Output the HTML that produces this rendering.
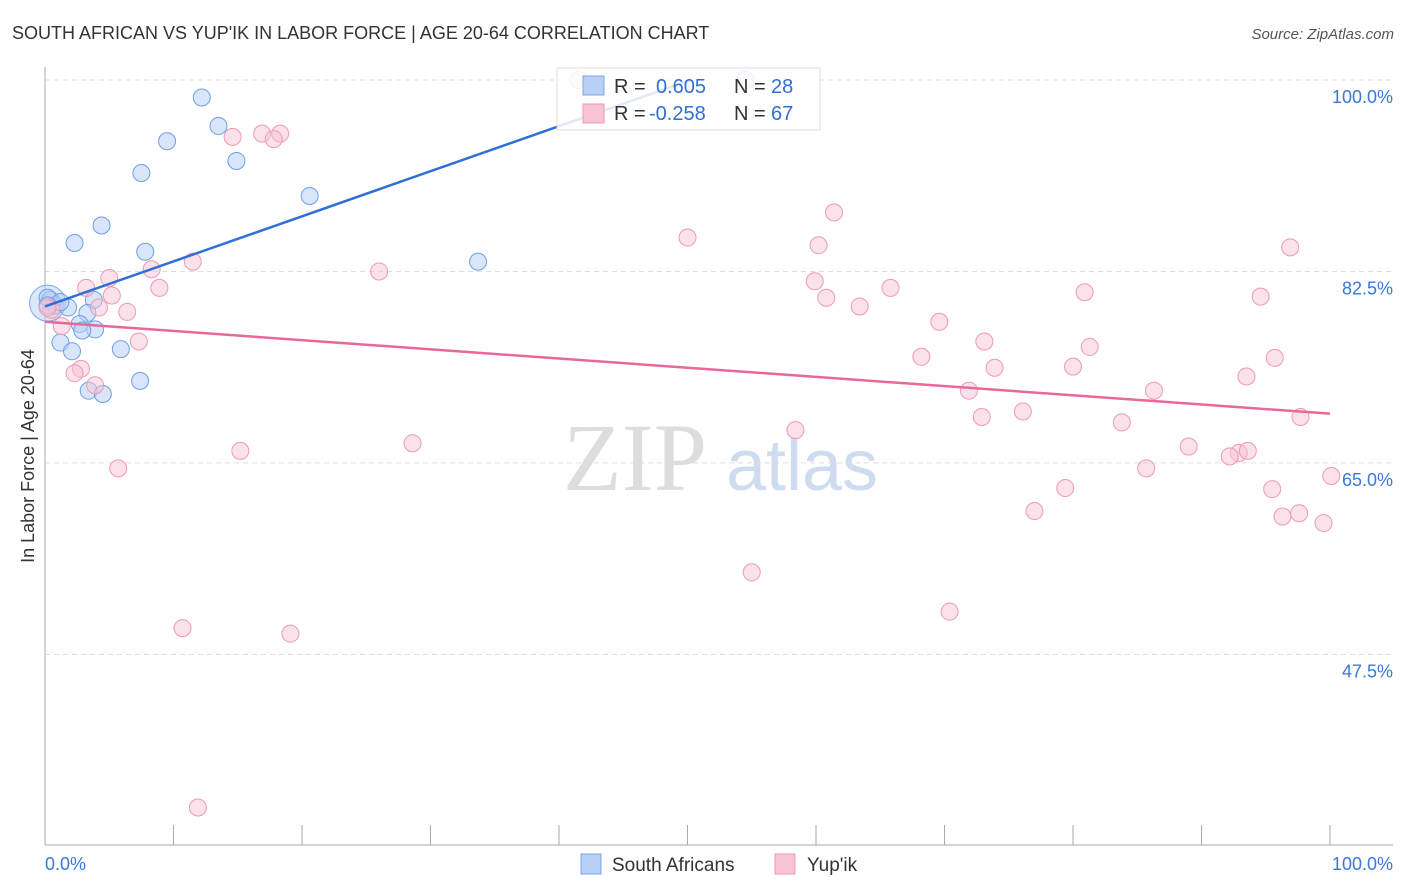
<!DOCTYPE html>
<html><head><meta charset="utf-8">
<style>
body{margin:0;background:#fff;font-family:"Liberation Sans",sans-serif;}
svg{display:block}
</style></head>
<body>
<svg id="chart" width="1406" height="892" xmlns="http://www.w3.org/2000/svg">
<text x="12" y="39" font-size="18" fill="#333">SOUTH AFRICAN VS YUP'IK IN LABOR FORCE | AGE 20-64 CORRELATION CHART</text>
<text x="1394" y="39" font-size="15" fill="#555" text-anchor="end" font-style="italic">Source: ZipAtlas.com</text>
<text x="34" y="456" font-size="18" fill="#333" text-anchor="middle" transform="rotate(-90 34 456)">In Labor Force | Age 20-64</text>
<g>
<text x="635" y="490" font-size="96" fill="#ddd" text-anchor="middle" font-family="Liberation Serif,serif">ZIP</text>
<text x="802" y="490" font-size="72" fill="#cfdcf0" text-anchor="middle">atlas</text>
</g>
<g id="grid"></g><g id="axes"></g><g id="pts"></g><g id="trend"></g>
<g>
<rect x="557" y="68" width="263" height="62" fill="#fff" fill-opacity="0.85" stroke="#ddd"/>
<rect x="583" y="76" width="21" height="19" fill="#b8d0f5" stroke="#7aa6e8"/>
<rect x="583" y="104" width="21" height="19" fill="#f8c4d4" stroke="#ee9ab5"/>
<text x="614" y="93" font-size="20" fill="#333">R = </text><text x="656" y="93" font-size="20" fill="#2f6fd6">0.605</text>
<text x="734" y="93" font-size="20" fill="#333">N = </text><text x="771" y="93" font-size="20" fill="#2f6fd6">28</text>
<text x="614" y="120" font-size="20" fill="#333">R = </text><text x="649" y="120" font-size="20" fill="#2f6fd6">-0.258</text>
<text x="734" y="120" font-size="20" fill="#333">N = </text><text x="771" y="120" font-size="20" fill="#2f6fd6">67</text>
</g>
<g>
<rect x="581" y="854" width="20" height="20" fill="#b8d0f5" stroke="#7aa6e8"/>
<text x="612" y="871" font-size="19" fill="#333">South Africans</text>
<rect x="775" y="854" width="20" height="20" fill="#f8c4d4" stroke="#ee9ab5"/>
<text x="807" y="871" font-size="19" fill="#333">Yup'ik</text>
</g>
</svg>
<script>
const yTicks=[100,82.5,65,47.5];
const yTickLabels=["100.0%","82.5%","65.0%","47.5%"];
const xTickVals=[0,10,20,30,40,50,60,70,80,90,100];
const blueX=[12.2,13.5,9.5,14.9,7.5,20.6,4.4,2.3,7.8,33.7,3.8,0.4,0.8,1.8,3.3,2.7,3.9,2.9,1.2,2.1,5.9,7.4,3.4,4.5,0.2,1.2,54.5,0.2];
const blueY=[98.4,95.8,94.4,92.6,91.5,89.4,86.7,85.1,84.3,83.4,79.9,79.9,79.4,79.2,78.7,77.7,77.2,77.1,76.0,75.2,75.4,72.5,71.6,71.3,80.1,79.7,100,79.4];
const pinkX=[41.5,14.6,16.9,18.3,17.8,61.4,50.0,60.2,96.9,11.5,8.3,26.0,5.0,3.2,8.9,59.9,65.8,80.9,5.2,60.8,94.6,63.4,4.2,6.4,0.5,1.3,69.6,73.1,81.3,7.3,68.2,95.7,2.8,2.3,73.9,80.0,93.5,3.9,71.9,86.3,76.1,72.9,97.7,83.8,58.4,28.6,15.2,89.0,92.9,92.2,93.6,5.7,85.7,100.1,79.4,95.5,77.0,96.3,97.6,99.5,55.0,70.4,10.7,19.1,11.9,0.2];
const pinkY=[100,94.8,95.1,95.1,94.6,87.9,85.6,84.9,84.7,83.4,82.7,82.5,81.9,81.0,81.0,81.6,81.0,80.6,80.3,80.1,80.2,79.3,79.2,78.8,79.0,77.5,77.9,76.1,75.6,76.1,74.7,74.6,73.6,73.2,73.7,73.8,72.9,72.1,71.6,71.6,69.7,69.2,69.2,68.7,68.0,66.8,66.1,66.5,65.9,65.6,66.1,64.5,64.5,63.8,62.7,62.6,60.6,60.1,60.4,59.5,55.0,51.4,49.9,49.4,33.5,79.2];
const blueTrend=[79.3,0.412]; // intercept, slope
const pinkTrend=[77.9,-0.084];
const NS="http://www.w3.org/2000/svg";
const X=v=>45+v*12.85, Y=v=>80+(100-v)*10.94;
function mk(tag,attrs,parent){const e=document.createElementNS(NS,tag);for(const k in attrs)e.setAttribute(k,attrs[k]);document.getElementById(parent).appendChild(e);return e;}
yTicks.forEach((t,i)=>{
 const l=mk('line',{x1:45,x2:1393,y1:Y(t),y2:Y(t),stroke:'#ddd','stroke-dasharray':'5,4'},'grid');
 
 
 const tx=mk('text',{x:1393,y:Y(t)+23,'font-size':18,fill:'#3a78d8','text-anchor':'end'},'grid');
 tx.textContent=yTickLabels[i];
 
 
});
let a=mk('line',{x1:45,x2:45,y1:67,y2:845,stroke:'#aaa'},'axes');


a=mk('line',{x1:45,x2:1393,y1:845,y2:845,stroke:'#aaa'},'axes');


xTickVals.forEach(v=>{const t=mk('line',{x1:X(v),x2:X(v),y1:825,y2:845,stroke:'#aaa'},'axes');
 
 });
let t0=mk('text',{x:45,y:870,'font-size':18,fill:'#3a78d8'},'axes');t0.textContent=xTickVals[0].toFixed(1)+'%';


let t1=mk('text',{x:1393,y:870,'font-size':18,fill:'#3a78d8','text-anchor':'end'},'axes');t1.textContent=xTickVals[xTickVals.length-1].toFixed(1)+'%';


let big=mk('circle',{cx:X(0.2),cy:Y(79.6),r:18,fill:'#b8d0f5','fill-opacity':0.5,stroke:'#7aa6e8'},'pts');


blueX.forEach((v,i)=>{const c=mk('circle',{cx:X(v),cy:Y(blueY[i]),r:8.5,fill:'#b8d0f5','fill-opacity':0.55,stroke:'#6e9fe6','stroke-width':1},'pts');
 
 });
pinkX.forEach((v,i)=>{const c=mk('circle',{cx:X(v),cy:Y(pinkY[i]),r:8.5,fill:'#f8c4d4','fill-opacity':0.5,stroke:'#ee9ab5','stroke-width':1},'pts');
 
 });
const bx2=(100-blueTrend[0])/blueTrend[1];
let bl=mk('line',{x1:X(0),y1:Y(blueTrend[0]),x2:X(bx2),y2:Y(100),stroke:'#2f6fd6','stroke-width':2.5},'trend');


let pl=mk('line',{x1:X(0),y1:Y(pinkTrend[0]),x2:X(100),y2:Y(pinkTrend[0]+100*pinkTrend[1]),stroke:'#e8689a','stroke-width':2.5},'trend');


</script>
</body></html>
